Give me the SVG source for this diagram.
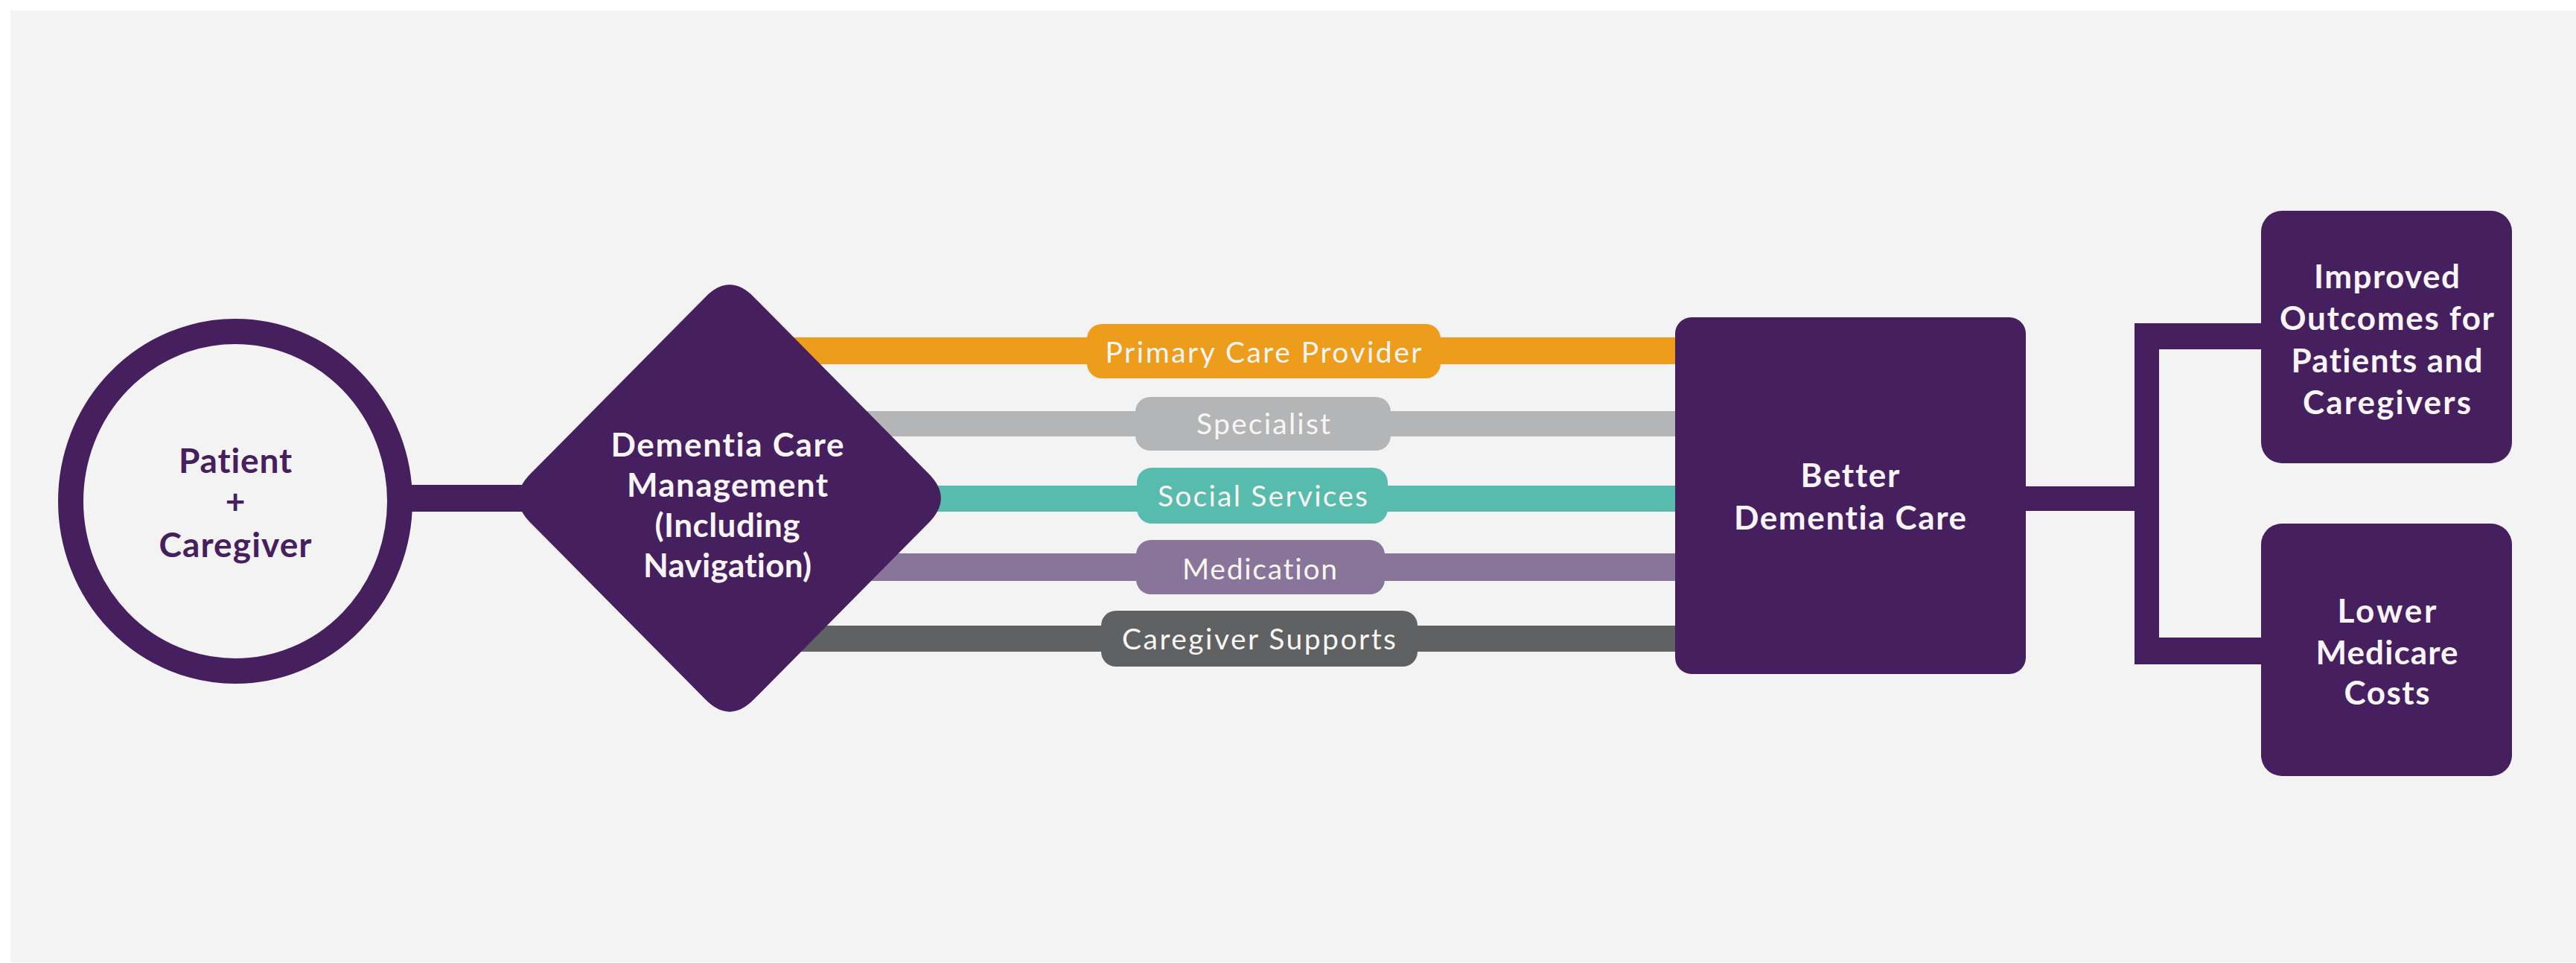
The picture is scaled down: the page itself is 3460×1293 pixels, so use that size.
<svg xmlns="http://www.w3.org/2000/svg" width="3460" height="1293" viewBox="0 0 3460 1293">
<style>
text { font-family: "Lato", "Open Sans", "Liberation Sans", sans-serif; text-anchor: middle; font-variant-ligatures: none; font-feature-settings: "liga" 0, "dlig" 0; }
.w { font-weight: 700; font-size: 44px; fill: #f8f4f8; }
.pc { font-weight: 700; font-size: 46px; fill: #46205e; }
.lb { font-weight: 400; font-size: 39px; fill: #f8f6f3; }
.pu { fill: #46205e; }
.pill { rx: 20px; ry: 20px; }
</style>
<rect width="3460" height="1293" fill="#ffffff"/>
<rect x="14" y="14" width="3446" height="1278" fill="#f3f3f3"/>

<g id="connectors">
  <rect class="pu" x="540" y="651" width="180" height="36"/>
  <rect x="980" y="453" width="1280" height="36" fill="#ee9c1c"/>
  <rect x="980" y="552" width="1280" height="34" fill="#b4b5b7"/>
  <rect x="980" y="652" width="1280" height="35" fill="#57bbae"/>
  <rect x="980" y="743" width="1280" height="37" fill="#89749a"/>
  <rect x="980" y="840" width="1280" height="35" fill="#606163"/>
  <path class="pu" d="M2715,653 H2867 V434 H3045 V469 H2900 V856 H3045 V892 H2867 V686 H2715 Z"/>
  <g id="label-primary">
    <rect class="pill" x="1460" y="435" width="475" height="73" fill="#ee9c1c"/>
    <text class="lb" x="1697" y="487" textLength="425" lengthAdjust="spacing">Primary Care Provider</text>
  </g>
  <g id="label-specialist">
    <rect class="pill" x="1525" y="533" width="343" height="72" fill="#b4b5b7"/>
    <text class="lb" x="1697" y="583" textLength="180" lengthAdjust="spacing" fill="#eeeeee">Specialist</text>
  </g>
  <g id="label-social">
    <rect class="pill" x="1527" y="628" width="337" height="75" fill="#57bbae"/>
    <text class="lb" x="1696" y="680" textLength="282" lengthAdjust="spacing">Social Services</text>
  </g>
  <g id="label-medication">
    <rect class="pill" x="1526" y="725" width="334" height="73" fill="#89749a"/>
    <text class="lb" x="1692" y="778" textLength="208" lengthAdjust="spacing">Medication</text>
  </g>
  <g id="label-caregiver-supports">
    <rect class="pill" x="1479" y="820" width="425" height="75" fill="#606163"/>
    <text class="lb" x="1691" y="872" textLength="368" lengthAdjust="spacing">Caregiver Supports</text>
  </g>
</g>

<g id="node-patient">
  <ellipse cx="316" cy="673" rx="221" ry="228" fill="#f3f3f3" stroke="#46205e" stroke-width="34"/>
  <text class="pc" x="316" y="635" textLength="152" lengthAdjust="spacing">Patient</text>
  <text class="pc" x="316" y="690">+</text>
  <text class="pc" x="316" y="748" textLength="205" lengthAdjust="spacing">Caregiver</text>
</g>

<g id="node-dcm">
  <path class="pu" d="M947.63,398.69 Q980,366 1012.37,398.69 L1247.63,636.31 Q1280,669 1247.63,701.69 L1012.37,939.31 Q980,972 947.63,939.31 L712.37,701.69 Q680,669 712.37,636.31 Z"/>
  <text class="w" x="977" y="613" textLength="313" lengthAdjust="spacing">Dementia Care</text>
  <text class="w" x="977" y="667" textLength="270" lengthAdjust="spacing">Management</text>
  <text class="w" x="977" y="721" textLength="195" lengthAdjust="spacing">(Including</text>
  <text class="w" x="977" y="775" textLength="226" lengthAdjust="spacing">Navigation)</text>
</g>

<g id="node-better">
  <rect class="pu" x="2250" y="426" width="471" height="479" rx="22"/>
  <text class="w" x="2485" y="654" textLength="133" lengthAdjust="spacing">Better</text>
  <text class="w" x="2485" y="711" textLength="312" lengthAdjust="spacing">Dementia Care</text>
</g>

<g id="node-outcomes">
  <rect class="pu" x="3037" y="283" width="337" height="339" rx="28"/>
  <text class="w" x="3206" y="387" textLength="196" lengthAdjust="spacing">Improved</text>
  <text class="w" x="3206" y="443" textLength="288" lengthAdjust="spacing">Outcomes for</text>
  <text class="w" x="3206" y="500" textLength="257" lengthAdjust="spacing">Patients and</text>
  <text class="w" x="3206" y="556" textLength="226" lengthAdjust="spacing">Caregivers</text>
</g>

<g id="node-costs">
  <rect class="pu" x="3037" y="703" width="337" height="339" rx="28"/>
  <text class="w" x="3206" y="836" textLength="133" lengthAdjust="spacing">Lower</text>
  <text class="w" x="3206" y="892" textLength="191" lengthAdjust="spacing">Medicare</text>
  <text class="w" x="3206" y="946" textLength="115" lengthAdjust="spacing">Costs</text>
</g>
</svg>
